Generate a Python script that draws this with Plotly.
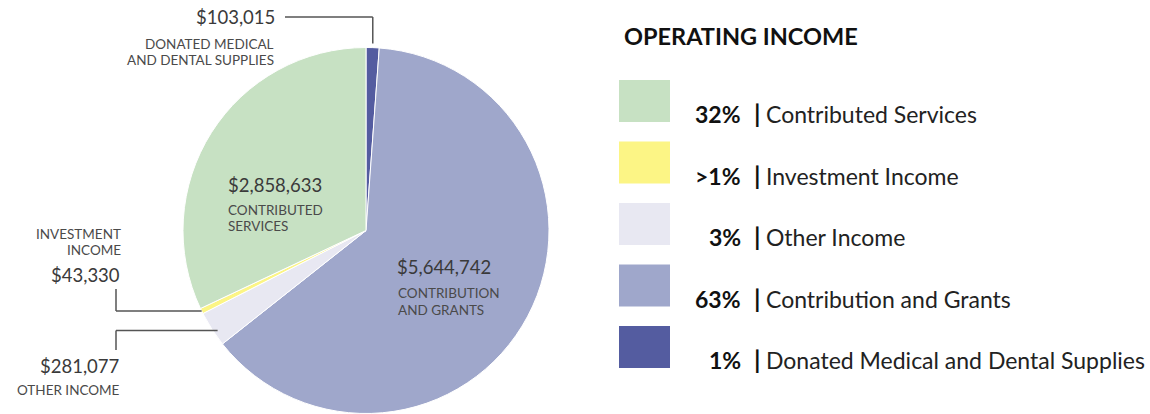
import math
import plotly.graph_objects as go

W, H = 1150, 414

# ---- data ----
categories = ["Donated Medical and Dental Supplies", "Contribution and Grants",
              "Other Income", "Investment Income", "Contributed Services"]
values = [103015, 5644742, 281077, 43330, 2858633]
colors = ["#545ca0", "#9fa7cb", "#e8e8f2", "#fcf585", "#c7e1c3"]

legend_order = ["Contributed Services", "Investment Income", "Other Income",
                "Contribution and Grants", "Donated Medical and Dental Supplies"]
legend_pct = ["32%", ">1%", "3%", "63%", "1%"]

amount_labels = ["$103,015", "$5,644,742", "$281,077", "$43,330", "$2,858,633"]
name_labels = ["DONATED MEDICAL<br>AND DENTAL SUPPLIES", "CONTRIBUTION<br>AND GRANTS",
               "OTHER INCOME", "INVESTMENT<br>INCOME", "CONTRIBUTED<br>SERVICES"]

FONT = "Lato"
DARK = "#3a3a3a"
GRAY = "#4a4a4a"
AMT = 18.5
CAP = 13.5

def px(x):
    return x / W

def py(y):
    return 1 - y / H

# pie geometry (pixels)
pie_left, pie_right, pie_top, pie_bottom = 183, 549, 47, 414
cx = (pie_left + pie_right) / 2
cy = (pie_top + pie_bottom) / 2
R = min(pie_right - pie_left, pie_bottom - pie_top) / 2

fig = go.Figure()
fig.add_trace(go.Pie(
    labels=categories, values=values, sort=False, direction="clockwise",
    rotation=0, marker=dict(colors=colors, line=dict(color="white", width=1)),
    textinfo="none", hoverinfo="label+value+percent", showlegend=False,
    domain=dict(x=[px(pie_left), px(pie_right)], y=[py(pie_bottom), py(pie_top)]),
))

total = sum(values)
starts = []
acc = 0
for v in values:
    starts.append(acc)
    acc += v

def edge_point(i, extra=0, frac=0.5):
    a = (starts[i] + frac * values[i]) / total * 2 * math.pi
    return cx + (R + extra) * math.sin(a), cy - (R + extra) * math.cos(a)

shapes = []
annotations = []
line_style = dict(color="#555555", width=1.5)

def seg(x0, y0, x1, y1):
    shapes.append(dict(type="line", xref="paper", yref="paper",
                       x0=px(x0), y0=py(y0), x1=px(x1), y1=py(y1), line=line_style))

def text(x, y, t, size, color, xanchor="left", bold=False):
    annotations.append(dict(
        x=px(x), y=py(y), xref="paper", yref="paper", text=f"<b>{t}</b>" if bold else t,
        showarrow=False, xanchor=xanchor, yanchor="middle", align=xanchor,
        font=dict(family=FONT, size=size, color=color)))

def lines(x, y, t, size, color, xanchor, step=16):
    for j, part in enumerate(t.split("<br>")):
        text(x, y + j * step, part, size, color, xanchor)

# Donated (index 0): top leader
ex, ey = edge_point(0, 4)
seg(285, 17, ex, 17)
seg(ex, 17, ex, ey)
text(277, 17, amount_labels[0], AMT, DARK, "right")
lines(276, 44, name_labels[0], CAP, GRAY, "right")

# Investment (index 3)
ex, ey = edge_point(3, 0)
seg(116, 289, 116, ey)
seg(116, ey, ex, ey)
lines(123, 234, name_labels[3], CAP, GRAY, "right")
text(122, 275, amount_labels[3], AMT, DARK, "right")

# Other income (index 2)
ex, ey = edge_point(2, -4, frac=0.38)
seg(116, 350, 116, ey)
seg(116, ey, ex, ey)
text(121, 366, amount_labels[2], AMT, DARK, "right")
lines(122, 390, name_labels[2], CAP, GRAY, "right")

# Contributed services (index 4) inside
text(226, 185, amount_labels[4], AMT, DARK, "left")
lines(226, 210, name_labels[4], CAP, GRAY, "left")

# Contribution and grants (index 1) inside
text(395, 267, amount_labels[1], AMT, DARK, "left")
lines(396, 293, name_labels[1], CAP, GRAY, "left", step=17)

# Legend panel
text(622, 36, "OPERATING INCOME", 23.5, "#111111", "left", bold=True)
color_of = dict(zip(categories, colors))
for k, (name, pct) in enumerate(zip(legend_order, legend_pct)):
    top = 80 + k * 61.5
    shapes.append(dict(type="rect", xref="paper", yref="paper",
                       x0=px(619), x1=px(670), y0=py(top), y1=py(top + 42),
                       fillcolor=color_of[name], line=dict(width=0)))
    yc = top + 34
    text(743, yc, pct, 23, "#111111", "right", bold=True)
    text(752, yc - 1, "<b>|</b>", 25, "#111111", "left")
    text(764, yc, name, 23, "#222222", "left")

fig.update_layout(
    width=W, height=H, margin=dict(l=0, r=0, t=0, b=0),
    paper_bgcolor="white", plot_bgcolor="white",
    shapes=shapes, annotations=annotations,
    font=dict(family=FONT),
)
fig.write_html("out.html", config={"displayModeBar": False},
               post_script="document.body.style.margin='0';document.body.style.overflow='hidden';")
